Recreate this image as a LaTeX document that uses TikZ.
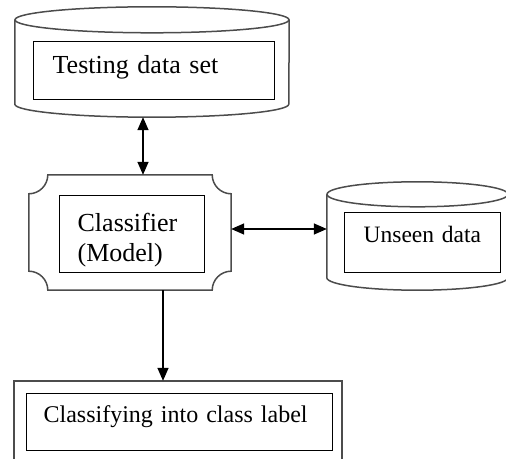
\documentclass[tikz,border=0pt]{standalone}
\usepackage{fontspec}
\setmainfont{Liberation Serif}
\usetikzlibrary{arrows.meta}

\begin{document}
\begin{tikzpicture}[x=1pt, y=1pt,
		outline/.style={draw=black!70, line width=1.5pt},
		frame/.style={inner sep=0pt},
		textbox/.style={draw, line width=1.3pt, anchor=north west, inner ysep=0pt, align=left},
		onearr/.style={-{Triangle[length=13pt,width=11pt]}, line width=1.5pt},
		twoarr/.style={{Triangle[length=13pt,width=11pt]}-{Triangle[length=13pt,width=11pt]}, line width=1.5pt}
	]

	\useasboundingbox (0,0) rectangle (506,458);

	% outer shapes
	\node[frame, minimum width=274pt, minimum height=110pt] (testdb) at (152,396) {};
	\node[frame, minimum width=202pt, minimum height=115pt] (model) at (130,225.5) {};
	\node[frame, minimum width=181pt, minimum height=108pt] (unseendb) at (417.5,222) {};
	\node[frame, minimum width=328pt, minimum height=82pt] (labelbox) at (178,36) {};

	\draw[outline] ([yshift=-13pt]testdb.north) ellipse [x radius=137pt, y radius=13pt];
	\draw[outline] ([yshift=-13pt]testdb.north west) -- ([yshift=13pt]testdb.south west)
		arc[start angle=180, end angle=360, x radius=137pt, y radius=13pt] -- ([yshift=-13pt]testdb.north east);

	\draw[outline] ([yshift=-12.5pt]unseendb.north) ellipse [x radius=90.5pt, y radius=12.5pt];
	\draw[outline] ([yshift=-12.5pt]unseendb.north west) -- ([yshift=12.5pt]unseendb.south west)
		arc[start angle=180, end angle=360, x radius=90.5pt, y radius=12.5pt] -- ([yshift=-12.5pt]unseendb.north east);

	\draw[outline] ([xshift=19pt]model.south west) -- ([xshift=-19pt]model.south east)
		arc[start angle=180, end angle=90, radius=19pt] -- ([yshift=-19pt]model.north east)
		arc[start angle=270, end angle=180, radius=19pt] -- ([xshift=19pt]model.north west)
		arc[start angle=0, end angle=-90, radius=19pt] -- ([yshift=19pt]model.south west)
		arc[start angle=90, end angle=0, radius=19pt] -- cycle;

	\draw[outline] (labelbox.south west) rectangle (labelbox.north east);

	% texts
	\node[textbox, inner xsep=19pt, text width=203pt, text height=32pt, text depth=26pt,
		font=\fontsize{26}{30}\selectfont] (testtxt) at (33,417) {Testing data set};
	\node[textbox, inner xsep=18pt, text width=109pt, text height=36pt, text depth=41pt,
		font=\fontsize{26}{30}\selectfont] (modeltxt) at (59,263) {Classifier\\(Model)};
	\node[textbox, inner xsep=19pt, text width=118pt, text height=30pt, text depth=30pt,
		font=\fontsize{23.5}{28}\selectfont] (unseentxt) at (344,246) {Unseen data};
	\node[textbox, inner xsep=17pt, text width=272pt, text height=29pt, text depth=28pt,
		font=\fontsize{24}{28}\selectfont] (labeltxt) at (26,65) {Classifying into class label};

	% arrows
	\draw[twoarr] ([xshift=-9pt]testdb.south) -- ([xshift=13pt]model.north);
	\draw[twoarr] ([yshift=3.5pt]model.east) -- ([yshift=7pt]unseendb.west);
	\draw[onearr] ([xshift=33pt]model.south) -- ([xshift=-15pt]labelbox.north);

\end{tikzpicture}
\end{document}
